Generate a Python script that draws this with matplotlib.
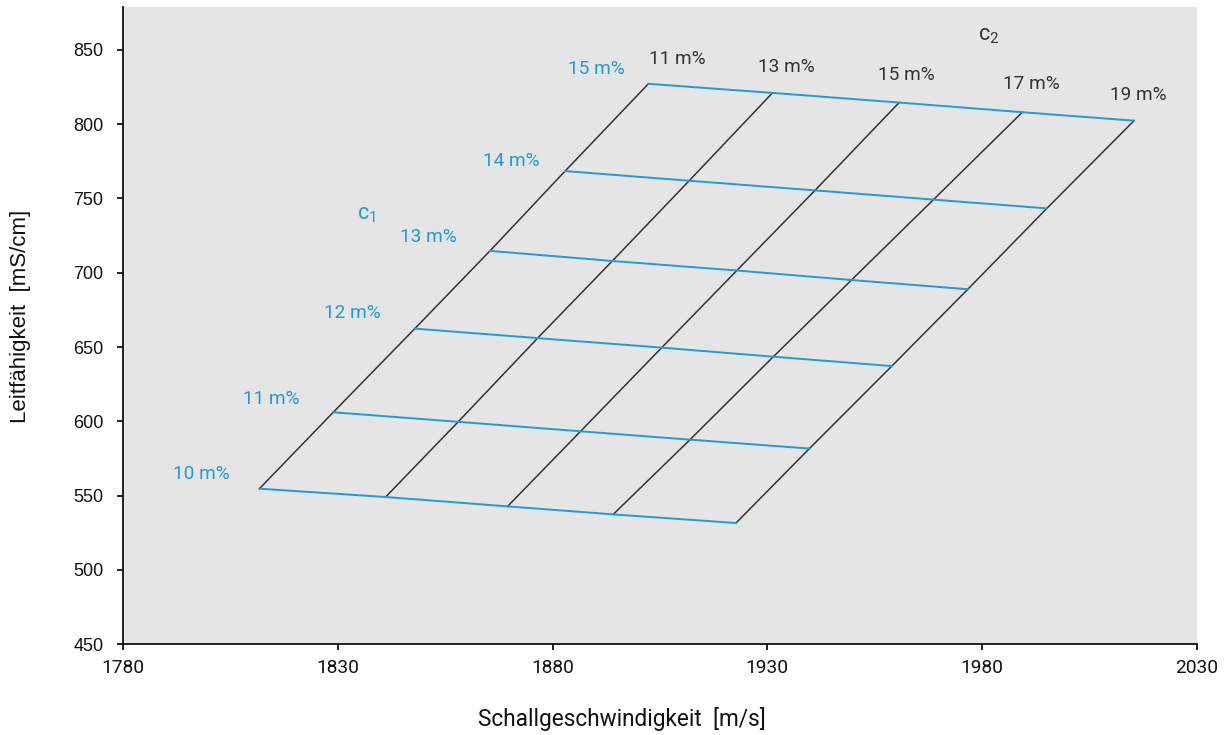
import numpy as np
from matplotlib import pyplot as plt

plt.rcParams['font.family'] = ['Roboto', 'DejaVu Sans']
plt.rcParams['mathtext.default'] = 'regular'

# c1 (blue) and c2 (black) concentrations in m%
c1_levels = [10, 11, 12, 13, 14, 15]
c2_levels = [11, 13, 15, 17, 19]

# Schallgeschwindigkeit [m/s], rows = c1, cols = c2
speed = np.array([
    [1811.7, 1841.1, 1869.5, 1894.1, 1922.7],
    [1828.9, 1858.0, 1886.5, 1912.0, 1939.8],
    [1847.9, 1876.5, 1905.4, 1931.4, 1959.0],
    [1865.4, 1893.9, 1922.9, 1949.6, 1976.7],
    [1882.9, 1911.8, 1941.1, 1968.7, 1995.1],
    [1902.3, 1931.2, 1960.7, 1989.4, 2015.4],
])

# Leitfaehigkeit [mS/cm], rows = c1, cols = c2
cond = np.array([
    [554.7, 549.1, 542.8, 537.4, 531.6],
    [606.1, 599.7, 593.3, 587.7, 581.7],
    [662.4, 656.0, 649.6, 643.5, 637.2],
    [714.7, 707.9, 701.5, 695.1, 688.9],
    [768.4, 761.9, 755.4, 749.2, 743.3],
    [827.1, 821.0, 814.5, 808.0, 802.3],
])

blue = '#1f9bd7'
dark = '#333333'
axis_col = '#111111'

fig = plt.figure(figsize=(12.28, 7.35), dpi=100)
ax = fig.add_axes([0.1004, 0.1234, 0.8741, 0.8675])
ax.set_facecolor('#e5e5e5')

# c2 lines (black)
for j in range(len(c2_levels)):
    ax.plot(speed[:, j], cond[:, j], color=dark, lw=1.1, zorder=2)
# c1 lines (blue)
for i in range(len(c1_levels)):
    ax.plot(speed[i, :], cond[i, :], color=blue, lw=1.4, zorder=3)

# labels for c1 at left end of each blue line
c1_offsets = [(-58, 15), (-62, 13), (-62, 16), (-62, 14), (-54, 10), (-52, 15)]
for i, c in enumerate(c1_levels):
    ax.annotate(f'{c} m%', (speed[i, 0], cond[i, 0]), xytext=c1_offsets[i],
                textcoords='offset pixels', ha='center', va='center',
                color=blue, fontsize=13.7)

# labels for c2 at top end of each black line
c2_offsets = [(29, 25), (14, 26), (7, 28), (9, 28), (4, 26)]
for j, c in enumerate(c2_levels):
    ax.annotate(f'{c} m%', (speed[-1, j], cond[-1, j]), xytext=c2_offsets[j],
                textcoords='offset pixels', ha='center', va='center',
                color=dark, fontsize=13.7)

ax.annotate('c$_1$', (speed[3, 0], cond[3, 0]), xytext=(-124, 36),
            textcoords='offset pixels', ha='center', va='center',
            color=blue, fontsize=15.5)
ax.annotate('c$_2$', (speed[-1, 3], cond[-1, 3]), xytext=(-34, 77),
            textcoords='offset pixels', ha='center', va='center',
            color=dark, fontsize=15.5)

ax.set_xlim(1780, 2030)
ax.set_ylim(450, 879)
ax.set_xticks([1780, 1830, 1880, 1930, 1980, 2030])
ax.set_yticks([450, 500, 550, 600, 650, 700, 750, 800, 850])

for s in ['top', 'right']:
    ax.spines[s].set_visible(False)
for s in ['left', 'bottom']:
    ax.spines[s].set_linewidth(1.3)
    ax.spines[s].set_color(axis_col)

ax.tick_params(axis='both', direction='out', length=4.3, width=1.3, colors=axis_col)
ax.tick_params(axis='y', pad=10, labelsize=13)
ax.tick_params(axis='x', pad=6, labelsize=13.8)
for lab in ax.get_yticklabels():
    lab.set_family(['Liberation Sans', 'DejaVu Sans'])

ax.set_xlabel('Schallgeschwindigkeit  [m/s]', fontsize=16.3, color=axis_col, va='center')
ax.xaxis.set_label_coords(0.4646, -0.1175)
ax.set_ylabel('Leitfähigkeit  [mS/cm]', fontsize=16, color=axis_col, va='center',
              family=['Liberation Sans', 'DejaVu Sans'])
ax.yaxis.set_label_coords(-0.0955, 0.5149)

fig.savefig('out.png', dpi=100)
